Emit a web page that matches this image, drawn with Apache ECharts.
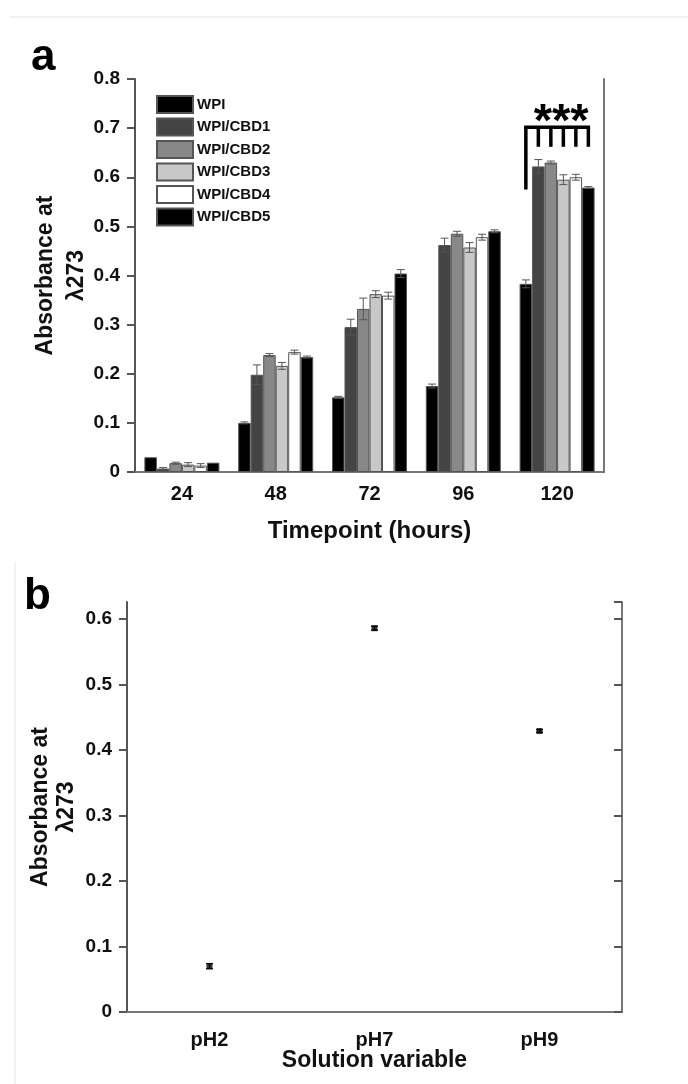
<!DOCTYPE html>
<html>
<head>
<meta charset="utf-8">
<script src="https://cdn.jsdelivr.net/npm/echarts@6/dist/echarts.min.js"></script>
<style>
html,body{margin:0;padding:0;background:#fff;}
#main{width:688px;height:1084px;}
</style>
</head>
<body>
<div id="main"></div>
<script>
// ---- Panel a data ----
const timepoints = ['24', '48', '72', '96', '120'];
const seriesNames = ['WPI', 'WPI/CBD1', 'WPI/CBD2', 'WPI/CBD3', 'WPI/CBD4', 'WPI/CBD5'];
const seriesColors = ['#000000', '#444444', '#888888', '#c8c8c8', '#ffffff', '#000000'];
const WPI      = [0.030, 0.100, 0.152, 0.175, 0.383];
const WPI_CBD1 = [0.007, 0.198, 0.295, 0.462, 0.622];
const WPI_CBD2 = [0.018, 0.238, 0.332, 0.485, 0.630];
const WPI_CBD3 = [0.015, 0.216, 0.362, 0.457, 0.595];
const WPI_CBD4 = [0.013, 0.244, 0.359, 0.478, 0.600];
const WPI_CBD5 = [0.019, 0.234, 0.404, 0.490, 0.579];
const ERR_WPI  = [0.000, 0.002, 0.002, 0.004, 0.008];
const ERR_CBD1 = [0.002, 0.020, 0.016, 0.014, 0.014];
const ERR_CBD2 = [0.002, 0.003, 0.022, 0.005, 0.003];
const ERR_CBD3 = [0.004, 0.007, 0.007, 0.010, 0.010];
const ERR_CBD4 = [0.004, 0.004, 0.007, 0.006, 0.006];
const ERR_CBD5 = [0.000, 0.002, 0.008, 0.003, 0.002];
const yTicksA = [0, 0.1, 0.2, 0.3, 0.4, 0.5, 0.6, 0.7, 0.8];

// ---- Panel b data ----
const solutions = ['pH2', 'pH7', 'pH9'];
const absorbanceB = [0.070, 0.586, 0.429];
const errB = [0.004, 0.003, 0.002];
const yTicksB = [0, 0.1, 0.2, 0.3, 0.4, 0.5, 0.6];

const allValues = [WPI, WPI_CBD1, WPI_CBD2, WPI_CBD3, WPI_CBD4, WPI_CBD5];
const allErrs = [ERR_WPI, ERR_CBD1, ERR_CBD2, ERR_CBD3, ERR_CBD4, ERR_CBD5];

const FONT = '"Liberation Sans", Arial, Helvetica, sans-serif';
const AXC = '#555555';
const BW = 12.5;

const chart = echarts.init(document.getElementById('main'), null, {renderer: 'canvas'});

const barSeries = seriesNames.map((name, i) => ({
  name: name,
  type: 'bar',
  xAxisIndex: 0, yAxisIndex: 0,
  barWidth: BW,
  barGap: '0%',
  itemStyle: {color: seriesColors[i], borderColor: '#555555', borderWidth: 1},
  emphasis: {disabled: true},
  data: allValues[i],
  z: 2
}));

const errDataA = [];
allValues.forEach((vals, si) => vals.forEach((v, ci) => {
  if (allErrs[si][ci] > 0) errDataA.push([ci, v, allErrs[si][ci], si]);
}));

function fmtTick(ticks) {
  return function (v) {
    for (const t of ticks) if (Math.abs(v - t) < 1e-9) return t === 0 ? '0' : String(t);
    return '';
  };
}

const option = {
  animation: false,
  backgroundColor: '#ffffff',
  textStyle: {fontFamily: FONT},
  legend: {
    data: seriesNames,
    orient: 'vertical',
    left: 151, top: 90,
    itemWidth: 36, itemHeight: 17, itemGap: 3.5,
    icon: 'rect',
    selectedMode: false,
    textStyle: {fontFamily: FONT, fontWeight: 'bold', fontSize: 15, color: '#111', padding: [0, 0, 0, -1]}
  },
  grid: [
    {left: 135, top: 79, width: 469, height: 393, containLabel: false},
    {left: 127, top: 602, width: 495, height: 410, containLabel: false}
  ],
  xAxis: [
    {
      gridIndex: 0, type: 'category', data: timepoints, position: 'bottom',
      axisLine: {lineStyle: {color: AXC, width: 2}},
      axisTick: {alignWithLabel: true, length: 8, lineStyle: {color: AXC, width: 2}},
      axisLabel: {fontFamily: FONT, fontWeight: 'bold', fontSize: 20, color: '#111', margin: 12},
      name: 'Timepoint (hours)', nameLocation: 'middle', nameGap: 47, nameMoveOverlap: false,
      nameTextStyle: {fontFamily: FONT, fontWeight: 'bold', fontSize: 24, color: '#111'}
    },
    {
      gridIndex: 0, type: 'category', data: timepoints, position: 'top',
      axisLine: {lineStyle: {color: '#777', width: 2}},
      axisTick: {show: false}, axisLabel: {show: false}
    },
    {
      gridIndex: 1, type: 'category', data: solutions, position: 'bottom',
      axisLine: {lineStyle: {color: AXC, width: 2}},
      axisTick: {alignWithLabel: true, length: 9, lineStyle: {color: AXC, width: 2}},
      axisLabel: {fontFamily: FONT, fontWeight: 'bold', fontSize: 20, color: '#111', margin: 18},
      name: 'Solution variable', nameLocation: 'middle', nameGap: 37, nameMoveOverlap: false,
      nameTextStyle: {fontFamily: FONT, fontWeight: 'bold', fontSize: 23, color: '#111'}
    },
    {
      gridIndex: 1, type: 'category', data: solutions, position: 'top',
      axisLine: {lineStyle: {color: '#777', width: 2}},
      axisTick: {show: false}, axisLabel: {show: false}
    }
  ],
  yAxis: [
    {
      gridIndex: 0, type: 'value', min: 0, max: 0.8, interval: 0.1, position: 'left',
      splitLine: {show: false},
      axisLine: {show: true, lineStyle: {color: AXC, width: 2}},
      axisTick: {show: true, length: 8, lineStyle: {color: AXC, width: 2}},
      axisLabel: {fontFamily: FONT, fontWeight: 'bold', fontSize: 19, color: '#111', margin: 15, formatter: fmtTick(yTicksA)},
      name: 'Absorbance at\nλ273', nameLocation: 'middle', nameGap: 43, nameRotate: 90, nameMoveOverlap: false,
      nameTextStyle: {fontFamily: FONT, fontWeight: 'bold', fontSize: 23, color: '#111', lineHeight: 31, align: 'center'}
    },
    {
      gridIndex: 0, type: 'value', min: 0, max: 0.8, interval: 0.1, position: 'right',
      splitLine: {show: false},
      axisLine: {show: true, lineStyle: {color: '#777', width: 2}},
      axisTick: {show: false}, axisLabel: {show: false}
    },
    {
      gridIndex: 1, type: 'value', min: 0, max: 0.626, interval: 0.1, position: 'left',
      splitLine: {show: false},
      axisLine: {show: true, lineStyle: {color: AXC, width: 2}},
      axisTick: {show: true, length: 8, lineStyle: {color: AXC, width: 2}},
      axisLabel: {fontFamily: FONT, fontWeight: 'bold', fontSize: 19, color: '#111', margin: 15, formatter: fmtTick(yTicksB), showMaxLabel: false},
      name: 'Absorbance at\nλ273', nameLocation: 'middle', nameGap: 47, nameRotate: 90, nameMoveOverlap: false,
      nameTextStyle: {fontFamily: FONT, fontWeight: 'bold', fontSize: 23, color: '#111', lineHeight: 26, align: 'center'}
    },
    {
      gridIndex: 1, type: 'value', min: 0, max: 0.626, interval: 0.1, position: 'right',
      splitLine: {show: false},
      axisLine: {show: true, lineStyle: {color: '#777', width: 2}},
      axisTick: {show: true, inside: true, length: 8, lineStyle: {color: AXC, width: 2}},
      axisLabel: {show: false}
    }
  ],
  series: barSeries.concat([
    {
      type: 'custom', xAxisIndex: 0, yAxisIndex: 0, z: 5, silent: true,
      data: errDataA,
      renderItem: function (params, api) {
        const ci = api.value(0), v = api.value(1), e = api.value(2), si = api.value(3);
        const c = api.coord([ci, v]);
        const x = c[0] + (si - 2.5) * BW;
        const yHi = api.coord([ci, v + e])[1];
        const yLo = api.coord([ci, v - e])[1];
        const cap = 4;
        const st = {stroke: '#555', lineWidth: 1, fill: null};
        return {type: 'group', children: [
          {type: 'line', shape: {x1: x, y1: yHi, x2: x, y2: yLo}, style: st},
          {type: 'line', shape: {x1: x - cap, y1: yHi, x2: x + cap, y2: yHi}, style: st},
          {type: 'line', shape: {x1: x - cap, y1: yLo, x2: x + cap, y2: yLo}, style: st}
        ]};
      }
    },
    {
      // significance bracket between WPI and each WPI/CBD at 120 h
      type: 'custom', xAxisIndex: 0, yAxisIndex: 0, z: 6, silent: true,
      data: [[4, 0.702, 0.575, 0.662, 0.711]],
      renderItem: function (params, api) {
        const ci = api.value(0);
        const yTop = api.coord([ci, api.value(1)])[1];
        const yLong = api.coord([ci, api.value(2)])[1];
        const yShort = api.coord([ci, api.value(3)])[1];
        const yStar = api.coord([ci, api.value(4)])[1];
        const cx = api.coord([ci, 0])[0];
        const st = {stroke: '#000', lineWidth: 3.5, fill: null};
        const x0 = cx + (0 - 2.5) * BW;
        const x5 = cx + (5 - 2.5) * BW;
        const kids = [
          {type: 'line', shape: {x1: x0, y1: yLong, x2: x0, y2: yTop}, style: st},
          {type: 'line', shape: {x1: x0 - 1.75, y1: yTop, x2: x5 + 1.75, y2: yTop}, style: st}
        ];
        for (let i = 1; i <= 5; i++) {
          const xi = cx + (i - 2.5) * BW;
          kids.push({type: 'line', shape: {x1: xi, y1: yTop, x2: xi, y2: yShort}, style: st});
        }
        kids.push({type: 'text', style: {text: '***', x: cx + 4, y: yStar, align: 'center', verticalAlign: 'middle',
          font: 'bold 47px ' + FONT, fill: '#000'}});
        return {type: 'group', children: kids};
      }
    },
    {
      type: 'scatter', xAxisIndex: 2, yAxisIndex: 2, z: 4,
      symbol: 'rect', symbolSize: 6,
      itemStyle: {color: '#000'},
      emphasis: {disabled: true},
      data: absorbanceB
    },
    {
      type: 'custom', xAxisIndex: 2, yAxisIndex: 2, z: 5, silent: true,
      data: absorbanceB.map((v, i) => [i, v, errB[i]]),
      renderItem: function (params, api) {
        const ci = api.value(0), v = api.value(1), e = api.value(2);
        const x = api.coord([ci, v])[0];
        const yHi = api.coord([ci, v + e])[1];
        const yLo = api.coord([ci, v - e])[1];
        const cap = 3.5;
        const st = {stroke: '#000', lineWidth: 1.2, fill: null};
        return {type: 'group', children: [
          {type: 'line', shape: {x1: x, y1: yHi, x2: x, y2: yLo}, style: st},
          {type: 'line', shape: {x1: x - cap, y1: yHi, x2: x + cap, y2: yHi}, style: st},
          {type: 'line', shape: {x1: x - cap, y1: yLo, x2: x + cap, y2: yLo}, style: st}
        ]};
      }
    }
  ]),
  graphic: [
    {type: 'line', shape: {x1: 10, y1: 17, x2: 688, y2: 17}, style: {stroke: '#e4e4e4', lineWidth: 1}, silent: true},
    {type: 'line', shape: {x1: 15, y1: 562, x2: 15, y2: 1084}, style: {stroke: '#e4e4e4', lineWidth: 1}, silent: true},
    {type: 'text', left: 31, top: 36, silent: true, style: {text: 'a', font: 'bold 44px ' + FONT, fill: '#000'}},
    {type: 'text', left: 24, top: 575, silent: true, style: {text: 'b', font: 'bold 44px ' + FONT, fill: '#000'}}
  ]
};

chart.setOption(option);
</script>
</body>
</html>
